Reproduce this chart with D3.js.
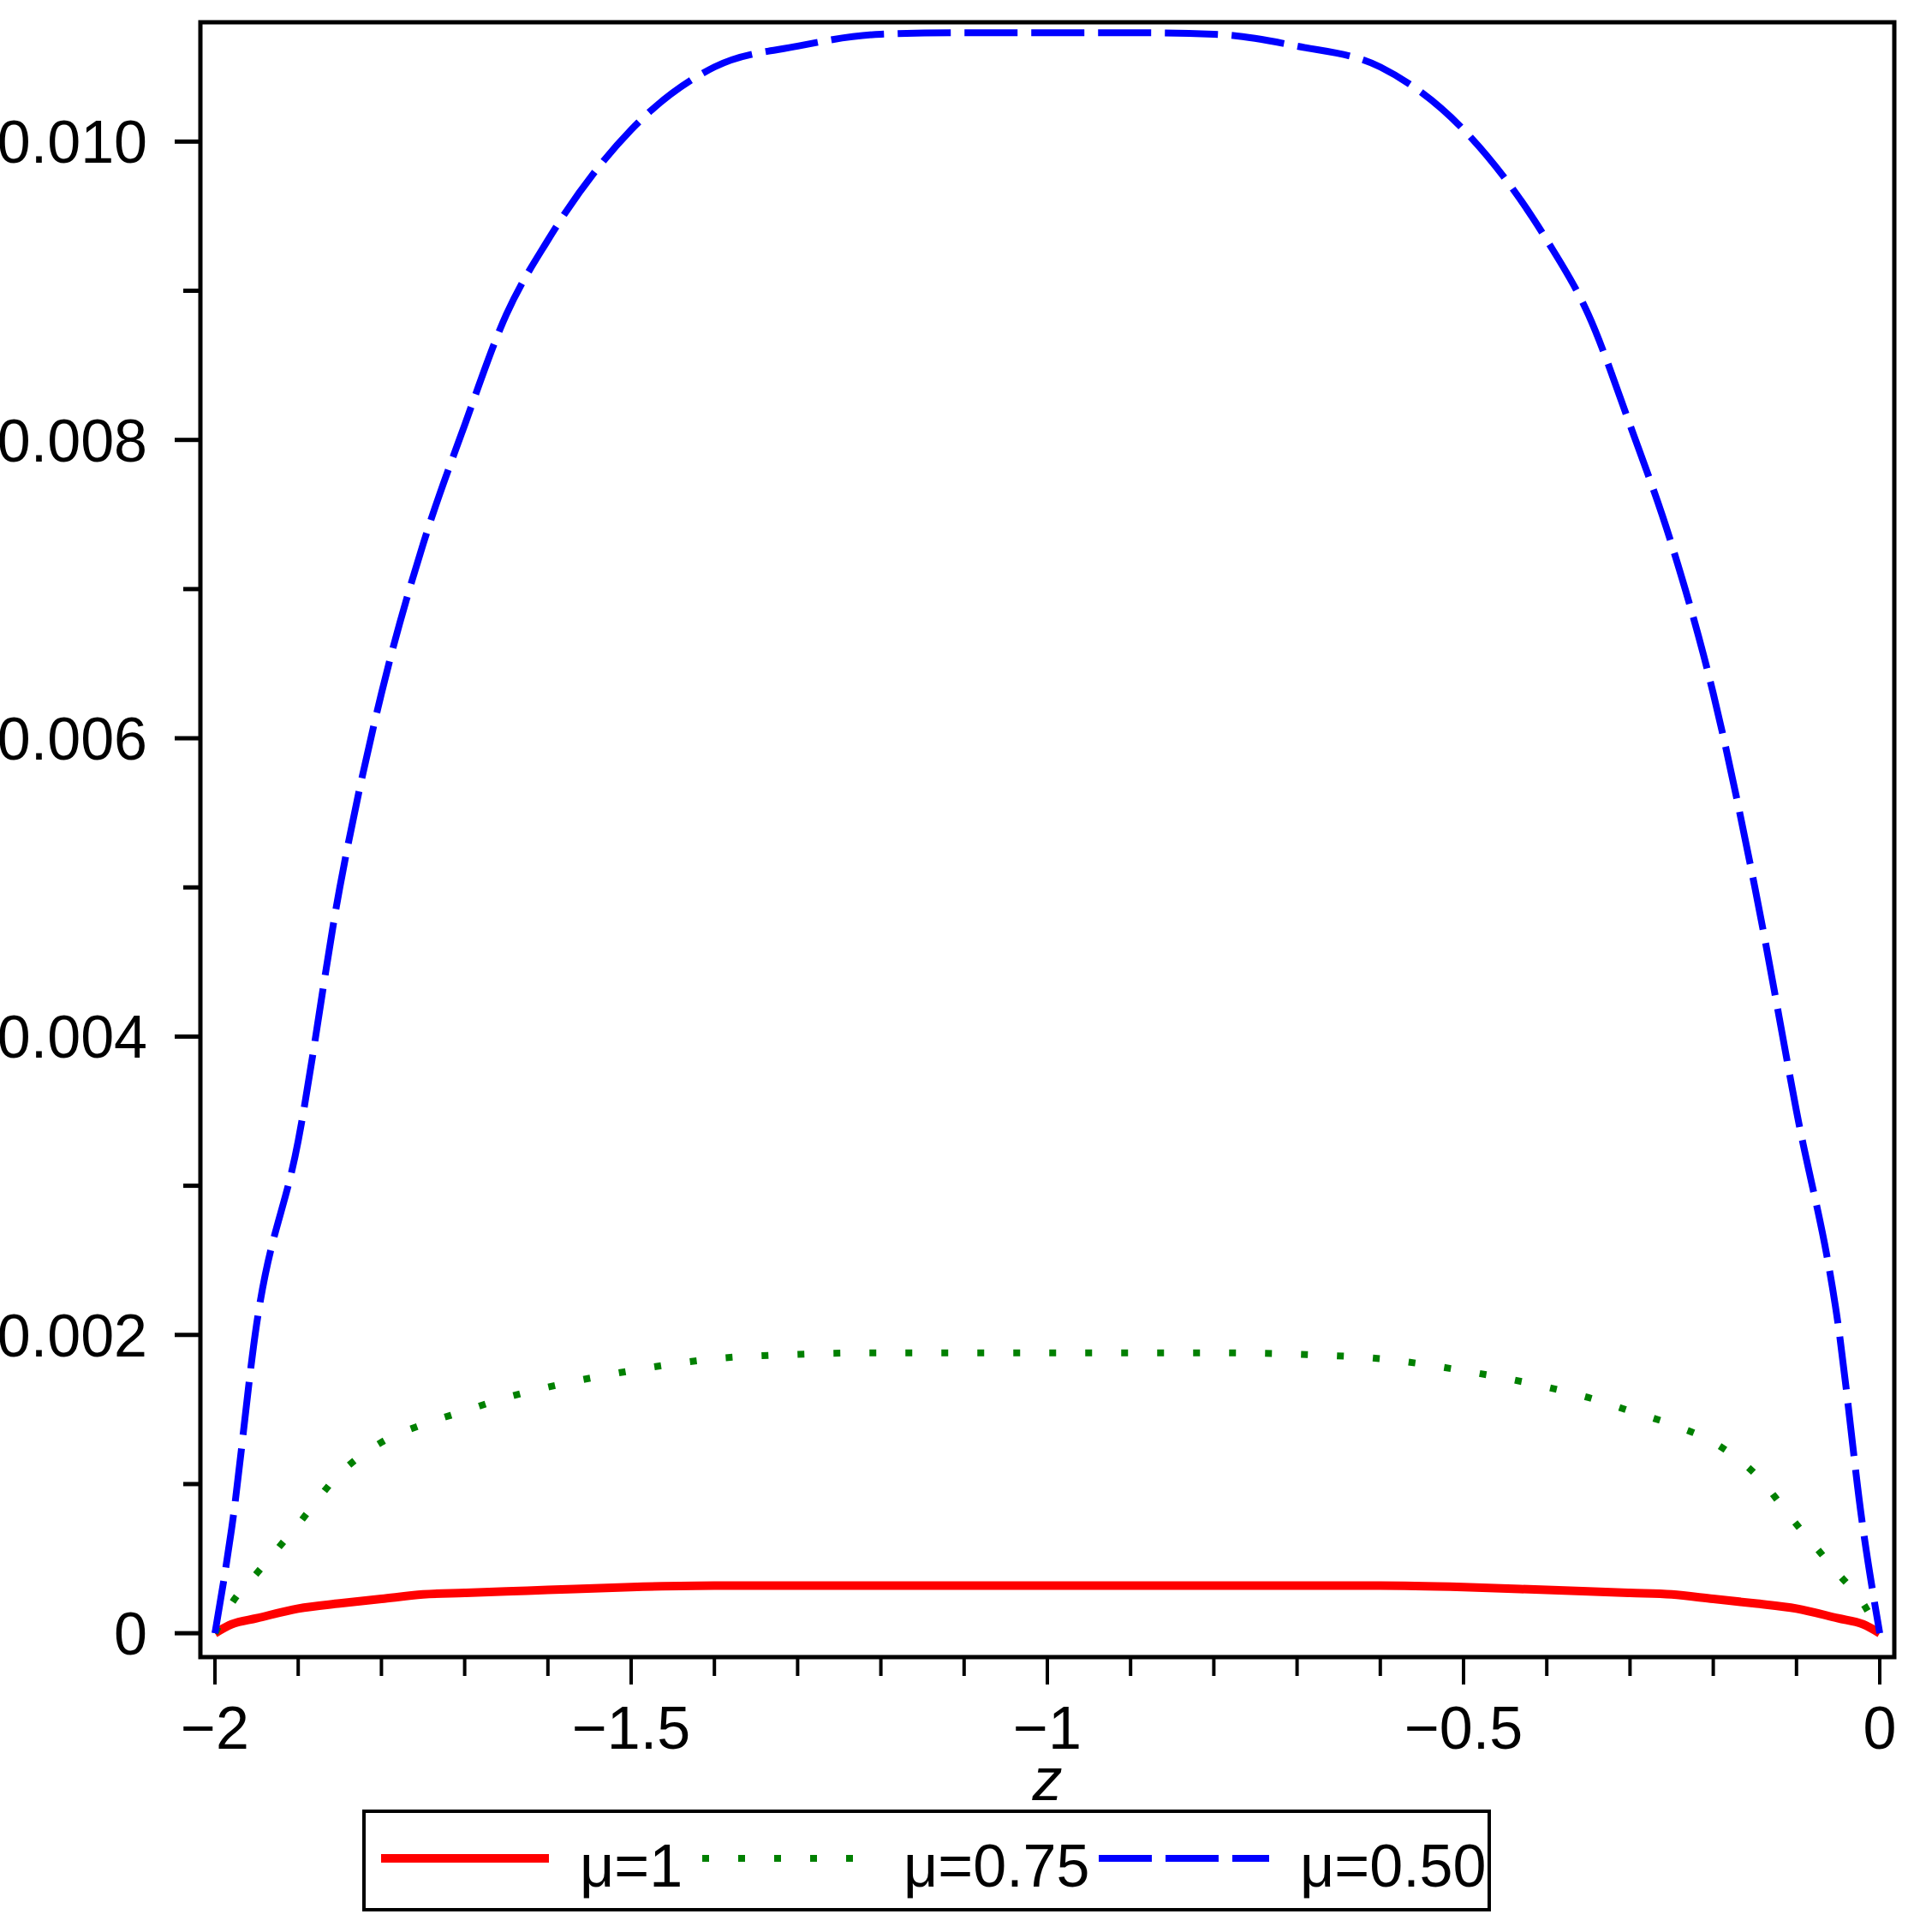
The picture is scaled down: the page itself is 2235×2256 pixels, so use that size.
<!DOCTYPE html>
<html><head><meta charset="utf-8">
<script src="https://cdn.jsdelivr.net/npm/d3@7"></script>
<style>body{margin:0;background:#fff}</style>
</head><body>
<svg id="chart" width="2235" height="2256"></svg>
<script>
// values
const xs = [-2, -1.98, -1.95, -1.9, -1.85, -1.8, -1.75, -1.7, -1.65, -1.6, -1.5, -1.4, -1.3, -1.2, -1.1, -1,
            -0.9, -0.8, -0.7, -0.6, -0.5, -0.4, -0.35, -0.3, -0.25, -0.2, -0.15, -0.1, -0.05, -0.02, 0];
const mu050 = [0, 0.0007, 0.00207, 0.0033, 0.005, 0.0063, 0.0073, 0.0081, 0.00884, 0.00934, 0.01008, 0.0105, 0.01064, 0.01072, 0.01073, 0.01073,
               0.01073, 0.01072, 0.01064, 0.0105, 0.01008, 0.00934, 0.00884, 0.0081, 0.0073, 0.0063, 0.005, 0.0035, 0.00207, 0.0007, 0];
const mu075 = [0, 0.0002, 0.0004, 0.00073, 0.00107, 0.00128, 0.0014, 0.00149, 0.00158, 0.00165, 0.00176, 0.00184, 0.00187, 0.00188, 0.00188, 0.00188,
               0.00188, 0.00188, 0.00187, 0.00184, 0.00176, 0.00165, 0.00158, 0.00149, 0.0014, 0.00128, 0.00107, 0.00073, 0.0004, 0.0002, 0];
const mu100 = [0, 0.00006, 0.0001, 0.000165, 0.0002, 0.00023, 0.00026, 0.00027, 0.00028, 0.00029, 0.00031, 0.00032, 0.00032, 0.00032, 0.00032, 0.00032,
               0.00032, 0.00032, 0.00032, 0.00032, 0.00031, 0.00029, 0.00028, 0.00027, 0.00026, 0.00023, 0.0002, 0.000165, 0.0001, 0.00006, 0];
const series = [
  {name: "μ=1",    vals: mu100, color: "#ff0000", width: 10, dash: null},
  {name: "μ=0.75", vals: mu075, color: "#008000", width: 8,  dash: "8,34"},
  {name: "μ=0.50", vals: mu050, color: "#0000ff", width: 8,  dash: "62,16"}
];
const yTicks = [0, 0.002, 0.004, 0.006, 0.008, 0.010];
const xTicks = [-2, -1.5, -1, -0.5, 0];

const svg = d3.select("#chart");
const font = "'Liberation Sans Narrow','Liberation Sans',sans-serif";
const mLeft = 234, mRight = 2212, mTop = 26, mBottom = 1935;

const x = d3.scaleLinear().domain([-2.0175, 0.0175]).range([mLeft, mRight]);
const y = d3.scaleLinear().domain([-0.00016, 0.0108]).range([mBottom, mTop]);

// y ticks (outside, minor every 0.001)
const yAll = d3.range(0, 0.0106, 0.001);
svg.append("g").selectAll("line").data(yAll).join("line")
  .attr("x1", mLeft).attr("x2", (d, i) => i % 2 === 0 ? mLeft - 30 : mLeft - 20)
  .attr("y1", d => y(d)).attr("y2", d => y(d))
  .attr("stroke", "#000").attr("stroke-width", 5);
svg.append("g").selectAll("text").data(yTicks).join("text")
  .attr("x", 172).attr("y", d => y(d) + 25)
  .attr("text-anchor", "end")
  .attr("font-family", font).attr("font-size", 70)
  .text(d => d === 0 ? "0" : d3.format(".3f")(d));

// x ticks (outside, minor every 0.1)
const xAll = d3.range(-2, 0.001, 0.1).map(v => Math.round(v * 10) / 10);
svg.append("g").selectAll("line").data(xAll).join("line")
  .attr("x1", d => x(d)).attr("x2", d => x(d))
  .attr("y1", mBottom).attr("y2", (d, i) => i % 5 === 0 ? mBottom + 32 : mBottom + 22)
  .attr("stroke", "#000").attr("stroke-width", 4);
svg.append("g").selectAll("text").data(xTicks).join("text")
  .attr("x", d => x(d)).attr("y", 2042)
  .attr("text-anchor", "middle")
  .attr("font-family", font).attr("font-size", 70)
  .text(d => d === 0 ? "0" : "−" + Math.abs(d));

svg.append("text").attr("x", x(-1)).attr("y", 2102)
  .attr("text-anchor", "middle").attr("font-family", font)
  .attr("font-style", "italic").attr("font-size", 70).text("z");

// curves
const line = vals => d3.line().x((d, i) => x(xs[i])).y(d => y(d)).curve(d3.curveMonotoneX)(vals);
svg.append("g").selectAll("path").data(series).join("path")
  .attr("d", s => line(s.vals))
  .attr("fill", "none").attr("stroke", s => s.color)
  .attr("stroke-width", s => s.width)
  .attr("stroke-dasharray", s => s.dash);

// frame
svg.append("rect").attr("x", mLeft).attr("y", mTop)
  .attr("width", mRight - mLeft).attr("height", mBottom - mTop)
  .attr("fill", "none").attr("stroke", "#000").attr("stroke-width", 5);

// legend
const lg = svg.append("g");
lg.append("rect").attr("x", 425).attr("y", 2115).attr("width", 1314).attr("height", 115)
  .attr("fill", "#fff").attr("stroke", "#000").attr("stroke-width", 4);
const lx = [[445, 641, 677], [820, 998, 1055], [1283, 1482, 1518]];
series.forEach((s, i) => {
  lg.append("line").attr("x1", lx[i][0]).attr("x2", lx[i][1]).attr("y1", 2170).attr("y2", 2170)
    .attr("stroke", s.color).attr("stroke-width", s.width).attr("stroke-dasharray", s.dash);
  lg.append("text").attr("x", lx[i][2]).attr("y", 2203)
    .attr("font-family", font).attr("font-size", 70).text(s.name);
});
</script>
</body></html>
